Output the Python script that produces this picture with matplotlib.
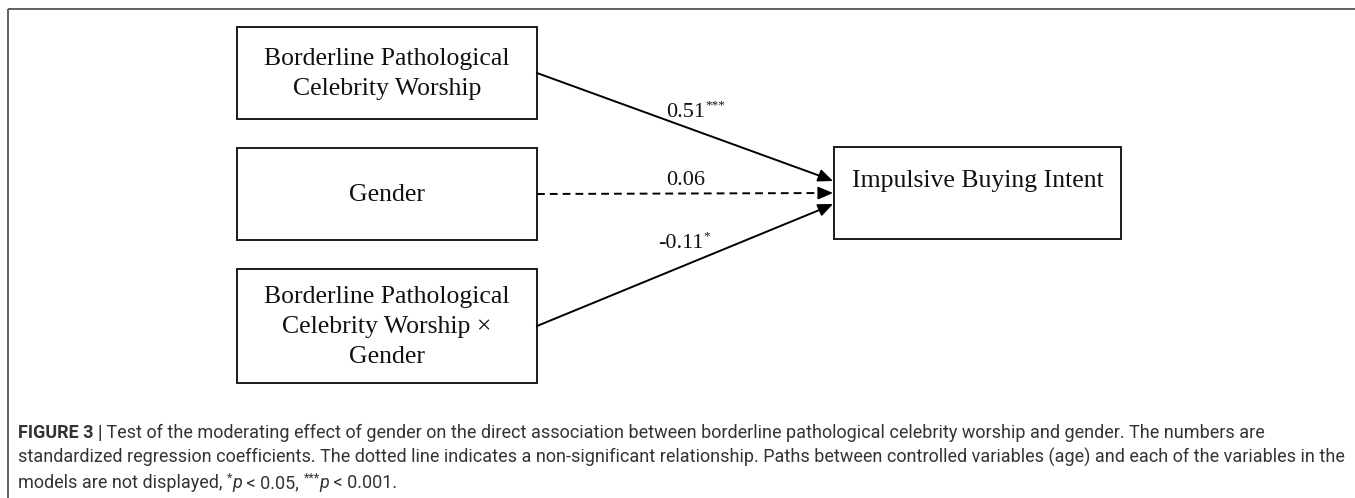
import matplotlib
matplotlib.use("Agg")
import matplotlib.pyplot as plt

# ---- data ----
predictors = ["Borderline Pathological\nCelebrity Worship",
              "Gender",
              "Borderline Pathological\nCelebrity Worship ×\nGender"]
outcome = "Impulsive Buying Intent"
coefs = ["0.51", "0.06", "-0.11"]
stars = ["***", "", "*"]
significant = [True, False, True]

caption_head = "FIGURE 3 |"
caption_lines = [
    " Test of the moderating effect of gender on the direct association between borderline pathological celebrity worship and gender. The numbers are",
    "standardized regression coefficients. The dotted line indicates a non-significant relationship. Paths between controlled variables (age) and each of the variables in the",
]

W, H = 1355, 498
fig = plt.figure(figsize=(W / 100, H / 100), dpi=100)
ax = fig.add_axes([0, 0, 1, 1])
ax.set_xlim(0, W)
ax.set_ylim(H, 0)
ax.axis("off")
renderer = fig.canvas.get_renderer()

serif = "Liberation Serif"
sans = "Roboto"
cap_col = "#333333"


def runs(x, y, pieces):
    # draw text pieces one after the other on a common baseline
    for s, kw in pieces:
        kw = dict(kw)
        dy = kw.pop("dy", 0)
        t = ax.text(x, y + dy, s, ha="left", va="baseline", **kw)
        x += t.get_window_extent(renderer).width
    return x


# outer frame (top and left only)
ax.plot([7.5, W], [8.5, 8.5], color="#555555", lw=1.3, solid_capstyle="butt")
ax.plot([7.5, 7.5], [8.5, H], color="#555555", lw=1.3, solid_capstyle="butt")

# predictor boxes
bx0, bx1 = 237, 537
box_rows = [(27, 119), (148, 240), (269, 383)]
for lab, (y0, y1) in zip(predictors, box_rows):
    ax.add_patch(plt.Rectangle((bx0, y0), bx1 - bx0, y1 - y0, fill=False,
                               ec="#1a1a1a", lw=1.4))
    ax.text((bx0 + bx1) / 2, (y0 + y1) / 2 + 1, lab, ha="center", va="center",
            family=serif, fontsize=18.5, linespacing=1.45, color="#111111")

# outcome box
ox0, ox1, oy0, oy1 = 834, 1121, 147, 239
ax.add_patch(plt.Rectangle((ox0, oy0), ox1 - ox0, oy1 - oy0, fill=False,
                           ec="#1a1a1a", lw=1.4))
ax.text((ox0 + ox1) / 2, 187, outcome, ha="center", va="baseline",
        family=serif, fontsize=18.5, color="#111111")

# paths
ends_y = [181, 193, 204]
label_pos = [(666, 117), (666, 185), (658, 248)]
for i, (y0, y1) in enumerate(box_rows):
    sy = (y0 + y1) / 2
    ey = ends_y[i]
    ls = "-" if significant[i] else (0, (4, 2.6))
    ax.plot([bx1, ox0 - 8], [sy, sy + (ey - sy) * (ox0 - 8 - bx1) / (ox0 - bx1)],
            color="black", lw=1.4, linestyle=ls)
    bx = ox0 - 14
    by = sy + (ey - sy) * (bx - bx1) / (ox0 - bx1)
    ax.annotate("", xy=(ox0 - 1, ey), xytext=(bx, by),
                arrowprops=dict(arrowstyle="-|>,head_length=0.7,head_width=0.3",
                                color="black", lw=1.2, shrinkA=0, shrinkB=0,
                                mutation_scale=13))
    lx, ly = label_pos[i]
    runs(lx, ly, [(coefs[i], dict(family=serif, fontsize=16, color="#111111")),
                  (stars[i], dict(family=serif, fontsize=9.5, color="#111111", dy=-9))])

# caption
fs = 13
reg = dict(family=sans, fontsize=fs, color=cap_col)
runs(18, 438, [(caption_head, dict(family=sans, fontsize=fs, fontweight="bold", color=cap_col)),
               (caption_lines[0], reg)])
runs(18, 463, [(caption_lines[1], reg)])
sup = dict(family=sans, fontsize=9, color=cap_col, dy=-6)
ital = dict(family=sans, fontsize=fs, style="italic", color=cap_col)
runs(18, 488, [("models are not displayed, ", reg), ("*", sup), ("p", ital), (" < 0.05, ", reg),
               ("***", sup), ("p", ital), (" < 0.001.", reg)])

fig.savefig("out.png", dpi=100)
